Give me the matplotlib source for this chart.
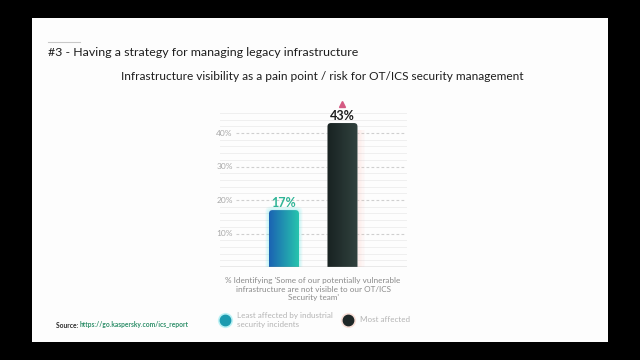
import numpy as np
import matplotlib
matplotlib.use("Agg")
import matplotlib.pyplot as plt
from matplotlib.patches import Rectangle, FancyBboxPatch
from matplotlib.colors import LinearSegmentedColormap

plt.rcParams['font.family'] = ['Lato', 'DejaVu Sans']

# data
groups = ["Least affected by industrial\nsecurity incidents", "Most affected"]
values = [17, 43]
value_labels = ["17%", "43%"]
yticks = [10, 20, 30, 40]
ytick_labels = ["10%", "20%", "30%", "40%"]

title = "#3 - Having a strategy for managing legacy infrastructure"
subtitle = "Infrastructure visibility as a pain point / risk for OT/ICS security management"
caption = ("% Identifying 'Some of our potentially vulnerable\n"
           "infrastructure are not visible to our OT/ICS\nSecurity team'")

W, H = 640, 360
fig = plt.figure(figsize=(6.4, 3.6), dpi=100, facecolor="black")

# white slide
fig.patches.append(Rectangle((32 / W, 1 - 342 / H), 576 / W, 324 / H,
                             transform=fig.transFigure, facecolor="#fdfdfd",
                             edgecolor="none", zorder=-5))

# axes placement (pixels)
ax_l, ax_r, ax_b, ax_t = 220, 407, 267, 113
ax = fig.add_axes([ax_l / W, 1 - ax_b / H, (ax_r - ax_l) / W, (ax_b - ax_t) / H])
ax.set_zorder(1)
ax.set_facecolor("none")
ax.set_ylim(0, 46)
ax.set_xlim(-1.094, 2.103)
for s in ax.spines.values():
    s.set_visible(False)
ax.set_xticks([])
ax.set_yticks([])

# faint minor lines
for y in np.arange(2, 47, 2):
    if y not in yticks:
        ax.axhline(y, color="#efefef", lw=0.7, zorder=0)
# dashed major lines + labels
for y, lab in zip(yticks, ytick_labels):
    ax.axhline(y, xmin=0.085, xmax=0.995, color="#cfcfcf", lw=0.8,
               ls=(0, (2.5, 2)), zorder=0)
    ax.text(-0.02, y, lab, transform=ax.get_yaxis_transform(), ha="left",
            va="center", fontsize=6, color="#a8a8a8")
ax.axhline(0, color="#9a9a9a", lw=1.0, zorder=5)

x = np.arange(len(values))
bars = ax.bar(x, values, width=0.513, color="none", edgecolor="none")

grads = [("#1b63b3", "#27c7ad"), ("#182221", "#31423f")]
glows = ["#5fe6e6", "#ffc0b8"]
label_colors = ["#2fb597", "#1c1c1c"]
asp = 17.5
for i, b in enumerate(bars):
    bx, bw, bh = b.get_x(), b.get_width(), b.get_height()
    # glow
    if i == 0:
        for k in range(4):
            pad = 0.015 + 0.015 * k
            g = FancyBboxPatch((bx - pad, -2), bw + 2 * pad, bh + 2 + pad * asp,
                               boxstyle="round,pad=0,rounding_size=0.08",
                               mutation_aspect=asp, facecolor=glows[i],
                               edgecolor="none", alpha=0.09, zorder=1)
            ax.add_patch(g)
    else:
        for k in range(5):
            pad = 0.03 + 0.025 * k
            g = Rectangle((bx + bw * 0.5, -2), bw * 0.5 + pad, bh,
                          facecolor=glows[i], edgecolor="none", alpha=0.05, zorder=1)
            ax.add_patch(g)
    patch = FancyBboxPatch((bx, -2), bw, bh + 2,
                           boxstyle="round,pad=0,rounding_size=0.06",
                           mutation_aspect=asp, facecolor="white",
                           edgecolor="none", zorder=2)
    ax.add_patch(patch)
    cmap = LinearSegmentedColormap.from_list("g%d" % i, grads[i])
    im = ax.imshow(np.linspace(0, 1, 64).reshape(1, -1), cmap=cmap,
                   extent=[bx, bx + bw, -2, bh], aspect="auto", zorder=3)
    im.set_clip_path(patch)
    ax.text(b.get_x() + bw / 2, bh + 1.0, value_labels[i], ha="center",
            va="baseline", fontsize=9, fontweight="bold", color=label_colors[i])

# pink triangle marker above the top bar
ax.plot(x[1], values[1] + 5.8, marker="^", ms=4.5, color="#d45a82",
        clip_on=False, zorder=6)

# titles
fig.lines.append(plt.Line2D([48 / W, 80 / W], [1 - 42 / H] * 2, color="#c8c8c8",
                            lw=0.8, transform=fig.transFigure))
fig.text(48 / W, 1 - 53 / H, title, fontsize=8.9, color="#1e1e1e",
         ha="left", va="center")
fig.text(322 / W, 1 - 76 / H, subtitle, fontsize=8.6, color="#1e1e1e",
         ha="center", va="center")

# caption
fig.text(313 / W, 1 - 289 / H, caption, fontsize=5.9, color="#8a8a8a",
         ha="center", va="center", linespacing=1.25)

# legend
lx = [225, 348]
lc = ["#1b9bb0", "#1e2727"]
lg = ["#7fe8ee", "#f6c7b8"]
for px, c, gc, txt in zip(lx, lc, lg, groups):
    fig.lines.append(plt.Line2D([px / W], [1 - 320 / H], marker="o", ms=10,
                                color=gc, alpha=0.4, transform=fig.transFigure))
    fig.lines.append(plt.Line2D([px / W], [1 - 320 / H], marker="o", ms=7.5,
                                color=c, transform=fig.transFigure))
    fig.text((px + 12) / W, 1 - 320 / H, txt, fontsize=5.8, color="#b4b4b4",
             ha="left", va="center", linespacing=1.2)

# source
t = fig.text(56 / W, 1 - 325 / H, "Source: ", fontsize=4.8, color="#2a2a2a",
             ha="left", va="center", fontweight="bold")
fig.canvas.draw()
ext = t.get_window_extent()
fig.text(ext.x1 / W, 1 - 325 / H, "https://go.kaspersky.com/ics_report",
         fontsize=4.8, color="#2f8f6a", ha="left", va="center", fontweight="bold")

fig.savefig("out.png", dpi=100, facecolor="black")
